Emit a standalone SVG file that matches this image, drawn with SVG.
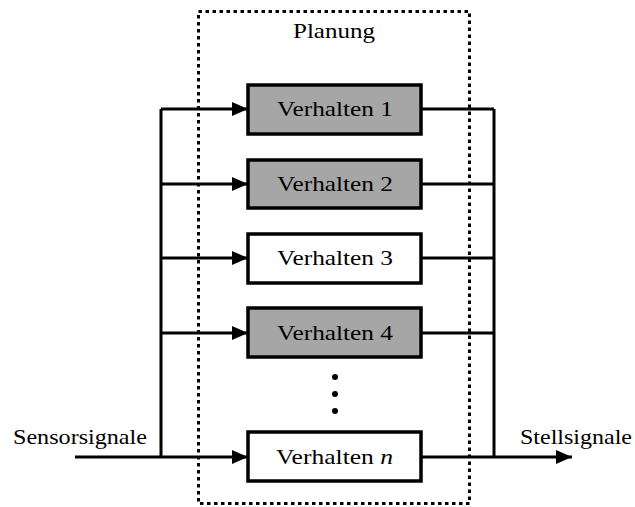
<svg xmlns="http://www.w3.org/2000/svg" width="635" height="507" viewBox="0 0 635 507">
<style>
text{font-family:"Liberation Serif","DejaVu Serif",serif;font-size:21.5px;fill:#000}
.box{stroke:#000;stroke-width:3.5}
.g{fill:#a6a6a6}
.w{fill:#fff}
.ln{stroke:#000;stroke-width:3;fill:none}
</style>
<defs>
<marker id="ah" markerWidth="16" markerHeight="14" refX="16" refY="7" orient="auto" markerUnits="userSpaceOnUse">
<path d="M0,0 L16,7 L0,14 Z" fill="#000"/>
</marker>
</defs>
<rect x="198.5" y="11.5" width="271" height="492" fill="none" stroke="#000" stroke-width="3" stroke-dasharray="3.5 3.5"/>
<text x="293" y="38" textLength="82" lengthAdjust="spacingAndGlyphs">Planung</text>
<g id="connectors">
<path class="ln" d="M161,109 V457"/>
<path class="ln" d="M494,109 V457"/>
<path class="ln" d="M75,457 H161" stroke-width="4"/>
<path class="ln" d="M161,109 H248" marker-end="url(#ah)"/>
<path class="ln" d="M161,184 H248" marker-end="url(#ah)"/>
<path class="ln" d="M161,258 H248" marker-end="url(#ah)"/>
<path class="ln" d="M161,333 H248" marker-end="url(#ah)"/>
<path class="ln" d="M161,457 H248" marker-end="url(#ah)"/>
<path class="ln" d="M421,109 H494"/>
<path class="ln" d="M421,184 H494"/>
<path class="ln" d="M421,258 H494"/>
<path class="ln" d="M421,333 H494"/>
<path class="ln" d="M421,457 H494"/>
<path class="ln" d="M494,457 H572" stroke-width="4" marker-end="url(#ah)"/>
</g>
<g id="v1"><rect class="box g" x="248" y="85" width="173" height="49"/><text x="277" y="116" textLength="116" lengthAdjust="spacingAndGlyphs">Verhalten 1</text></g>
<g id="v2"><rect class="box g" x="248" y="160" width="173" height="48"/><text x="277" y="191" textLength="116" lengthAdjust="spacingAndGlyphs">Verhalten 2</text></g>
<g id="v3"><rect class="box w" x="248" y="234" width="173" height="49"/><text x="277" y="265" textLength="116" lengthAdjust="spacingAndGlyphs">Verhalten 3</text></g>
<g id="v4"><rect class="box g" x="248" y="308" width="173" height="49"/><text x="277" y="340" textLength="116" lengthAdjust="spacingAndGlyphs">Verhalten 4</text></g>
<g id="dots"><circle cx="335" cy="377" r="3" fill="#000"/><circle cx="335" cy="394" r="3" fill="#000"/><circle cx="335" cy="411" r="3" fill="#000"/></g>
<g id="vn"><rect class="box w" x="248" y="432" width="173" height="49"/><text x="276" y="464" textLength="117" lengthAdjust="spacingAndGlyphs">Verhalten <tspan font-style="italic">n</tspan></text></g>
<text x="13" y="444" textLength="134" lengthAdjust="spacingAndGlyphs">Sensorsignale</text>
<text x="520" y="444" textLength="112" lengthAdjust="spacingAndGlyphs">Stellsignale</text>
</svg>
